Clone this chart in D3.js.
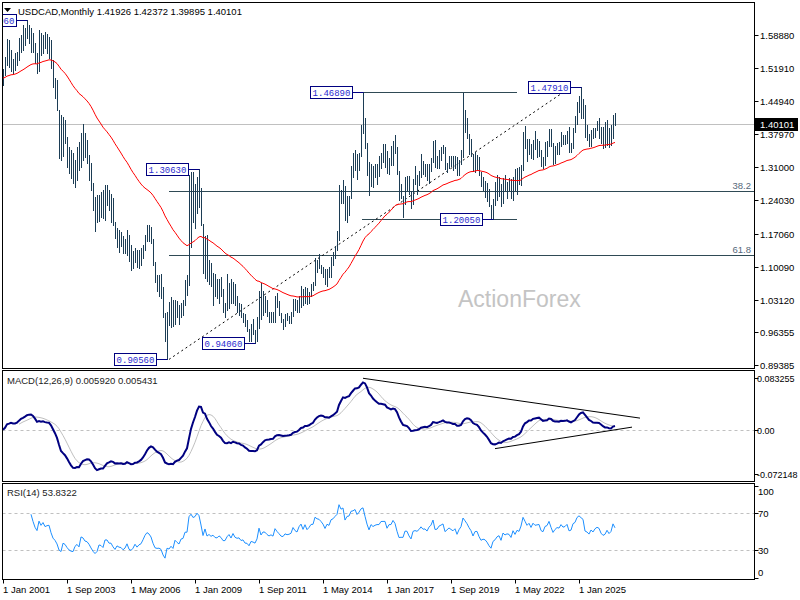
<!DOCTYPE html>
<html>
<head>
<meta charset="utf-8">
<script src="https://cdn.jsdelivr.net/npm/d3@7"></script>
<style>
  html, body { margin: 0; padding: 0; background: #fff; }
  svg { display: block; font-family: "Liberation Sans", Arial, sans-serif; }
</style>
</head>
<body>
<svg id="chart" width="800" height="600"></svg>
<script>
// ── Data: USDCAD monthly bars, Jan 2001 → Jul 2026 ─────────────────────
const firstYear = 2001;
const monthNames = ['Jan','Feb','Mar','Apr','May','Jun','Jul','Aug','Sep','Oct','Nov','Dec'];

const highs = [
  1.517, 1.543, 1.581, 1.579, 1.557, 1.538, 1.551, 1.554, 1.582, 1.589, 1.610, 1.604,   // 2001
  1.6196,1.610, 1.604, 1.592, 1.572, 1.551, 1.599, 1.593, 1.589, 1.595, 1.590, 1.585,   // 2002
  1.578, 1.536, 1.498, 1.494, 1.431, 1.420, 1.416, 1.410, 1.374, 1.353, 1.347, 1.340,   // 2003
  1.326, 1.353, 1.364, 1.383, 1.401, 1.383, 1.368, 1.336, 1.319, 1.277, 1.248, 1.252,   // 2004
  1.252, 1.258, 1.262, 1.273, 1.273, 1.262, 1.253, 1.245, 1.195, 1.182, 1.178, 1.173,   // 2005
  1.166, 1.160, 1.178, 1.168, 1.147, 1.134, 1.140, 1.135, 1.135, 1.140, 1.147, 1.168,   // 2006
  1.188, 1.189, 1.184, 1.160, 1.111, 1.083, 1.083, 1.085, 1.058, 1.003, 1.005, 1.026,   // 2007
  1.037, 1.030, 1.030, 1.028, 1.020, 1.025, 1.030, 1.072, 1.083, 1.295, 1.2995,1.301,   // 2008
  1.274, 1.289, 1.3063,1.267, 1.190, 1.165, 1.168, 1.115, 1.108, 1.088, 1.085, 1.075,   // 2009
  1.075, 1.080, 1.053, 1.025, 1.085, 1.066, 1.076, 1.068, 1.065, 1.040, 1.025, 1.023,   // 2010
  1.003, 1.002, 0.988, 0.970, 0.980, 0.990, 0.967, 0.995, 1.050, 1.066, 1.050, 1.040,   // 2011
  1.030, 1.005, 1.005, 1.005, 1.040, 1.045, 1.028, 1.003, 0.990, 1.002, 1.003, 0.998,   // 2012
  1.005, 1.032, 1.033, 1.030, 1.039, 1.060, 1.054, 1.058, 1.055, 1.047, 1.064, 1.068,   // 2013
  1.120, 1.115, 1.128, 1.105, 1.100, 1.095, 1.095, 1.100, 1.122, 1.132, 1.145, 1.177,   // 2014
  1.273, 1.263, 1.283, 1.271, 1.249, 1.250, 1.312, 1.340, 1.346, 1.338, 1.340, 1.399,   // 2015
  1.4689,1.413, 1.361, 1.322, 1.318, 1.312, 1.318, 1.318, 1.334, 1.341, 1.360, 1.360,   // 2016
  1.345, 1.330, 1.354, 1.366, 1.379, 1.353, 1.302, 1.276, 1.250, 1.290, 1.292, 1.292,   // 2017
  1.260, 1.285, 1.312, 1.295, 1.302, 1.338, 1.323, 1.318, 1.318, 1.318, 1.329, 1.366,   // 2018
  1.367, 1.333, 1.347, 1.352, 1.357, 1.353, 1.320, 1.335, 1.335, 1.334, 1.333, 1.331,   // 2019
  1.325, 1.346, 1.4667,1.430, 1.414, 1.380, 1.370, 1.338, 1.342, 1.336, 1.332, 1.301,   // 2020
  1.289, 1.282, 1.277, 1.265, 1.231, 1.244, 1.280, 1.295, 1.290, 1.275, 1.287, 1.295,   // 2021
  1.279, 1.288, 1.285, 1.289, 1.306, 1.308, 1.310, 1.316, 1.384, 1.3977,1.370, 1.370,   // 2022
  1.360, 1.367, 1.386, 1.369, 1.366, 1.346, 1.332, 1.364, 1.365, 1.390, 1.390, 1.362,   // 2023
  1.355, 1.361, 1.364, 1.385, 1.379, 1.379, 1.387, 1.395, 1.362, 1.393, 1.418, 1.447,   // 2024
  1.460, 1.4791,1.454, 1.441, 1.399, 1.380, 1.388, 1.392, 1.393, 1.408, 1.414, 1.395,   // 2025
  1.395, 1.406, 1.410, 1.393, 1.399, 1.421, 1.42372                                     // 2026
];

const lows = [
  1.484, 1.505, 1.525, 1.522, 1.512, 1.509, 1.515, 1.526, 1.536, 1.554, 1.557, 1.568,   // 2001
  1.582, 1.572, 1.553, 1.552, 1.530, 1.508, 1.513, 1.547, 1.551, 1.561, 1.551, 1.540,   // 2002
  1.519, 1.479, 1.456, 1.431, 1.330, 1.326, 1.335, 1.362, 1.311, 1.298, 1.288, 1.277,   // 2003
  1.269, 1.284, 1.305, 1.311, 1.326, 1.332, 1.319, 1.284, 1.262, 1.220, 1.177, 1.195,   // 2004
  1.198, 1.206, 1.203, 1.199, 1.231, 1.220, 1.196, 1.188, 1.161, 1.142, 1.132, 1.145,   // 2005
  1.130, 1.130, 1.126, 1.113, 1.094, 1.098, 1.110, 1.100, 1.098, 1.105, 1.120, 1.135,   // 2006
  1.155, 1.155, 1.150, 1.105, 1.069, 1.050, 1.040, 1.035, 0.995, 0.944, 0.9056,0.978,   // 2007
  0.974, 0.976, 0.980, 0.995, 0.980, 0.995, 1.000, 1.020, 1.042, 1.063, 1.142, 1.195,   // 2008
  1.182, 1.213, 1.227, 1.188, 1.087, 1.078, 1.070, 1.065, 1.060, 1.020, 1.040, 1.035,   // 2009
  1.025, 1.040, 1.005, 0.995, 1.010, 1.013, 1.025, 1.025, 1.020, 1.005, 1.000, 0.995,   // 2010
  0.985, 0.975, 0.966, 0.945, 0.945, 0.960, 0.9406,0.944, 0.972, 0.990, 1.000, 1.005,   // 2011
  0.998, 0.985, 0.985, 0.985, 0.985, 1.015, 1.000, 0.985, 0.970, 0.975, 0.988, 0.983,   // 2012
  0.983, 0.997, 1.010, 1.005, 1.005, 1.017, 1.020, 1.025, 1.022, 1.025, 1.040, 1.052,   // 2013
  1.063, 1.090, 1.098, 1.088, 1.080, 1.065, 1.060, 1.080, 1.080, 1.104, 1.120, 1.135,   // 2014
  1.157, 1.235, 1.235, 1.200, 1.196, 1.210, 1.245, 1.290, 1.304, 1.285, 1.305, 1.334,   // 2015
  1.382, 1.350, 1.295, 1.251, 1.271, 1.269, 1.289, 1.275, 1.291, 1.308, 1.322, 1.311,   // 2016
  1.298, 1.297, 1.316, 1.316, 1.340, 1.296, 1.241, 1.245, 1.206, 1.232, 1.262, 1.253,   // 2017
  1.225, 1.232, 1.276, 1.253, 1.272, 1.290, 1.296, 1.291, 1.283, 1.278, 1.303, 1.322,   // 2018
  1.311, 1.309, 1.308, 1.326, 1.340, 1.307, 1.300, 1.309, 1.313, 1.304, 1.309, 1.295,   // 2019
  1.295, 1.317, 1.332, 1.385, 1.371, 1.339, 1.333, 1.303, 1.300, 1.306, 1.293, 1.270,   // 2020
  1.263, 1.247, 1.239, 1.228, 1.2013,1.2005,1.231, 1.242, 1.249, 1.229, 1.236, 1.263,   // 2021
  1.245, 1.262, 1.246, 1.241, 1.263, 1.255, 1.276, 1.272, 1.305, 1.350, 1.323, 1.339,   // 2022
  1.329, 1.327, 1.349, 1.331, 1.333, 1.313, 1.309, 1.316, 1.335, 1.355, 1.354, 1.318,   // 2023
  1.320, 1.339, 1.339, 1.355, 1.359, 1.360, 1.362, 1.343, 1.342, 1.351, 1.384, 1.401,   // 2024
  1.426, 1.415, 1.415, 1.375, 1.3685,1.354, 1.356, 1.372, 1.373, 1.388, 1.372, 1.362,   // 2025
  1.351, 1.353, 1.357, 1.353, 1.357, 1.372, 1.39895                                     // 2026
];

const closes = [
  1.498, 1.538, 1.577, 1.538, 1.545, 1.518, 1.534, 1.550, 1.578, 1.586, 1.580, 1.592,   // 2001
  1.603, 1.597, 1.595, 1.565, 1.536, 1.518, 1.586, 1.562, 1.585, 1.561, 1.568, 1.571,   // 2002
  1.527, 1.487, 1.469, 1.437, 1.370, 1.349, 1.399, 1.386, 1.350, 1.319, 1.302, 1.296,   // 2003
  1.325, 1.336, 1.310, 1.373, 1.364, 1.335, 1.329, 1.304, 1.264, 1.222, 1.189, 1.200,   // 2004
  1.238, 1.232, 1.210, 1.256, 1.256, 1.226, 1.226, 1.190, 1.161, 1.180, 1.167, 1.163,   // 2005
  1.140, 1.148, 1.168, 1.117, 1.104, 1.114, 1.133, 1.107, 1.118, 1.123, 1.142, 1.165,   // 2006
  1.180, 1.172, 1.154, 1.110, 1.070, 1.064, 1.065, 1.054, 0.996, 0.950, 0.998, 0.989,   // 2007
  1.003, 0.981, 1.026, 1.007, 0.992, 1.020, 1.024, 1.063, 1.063, 1.205, 1.240, 1.218,   // 2008
  1.230, 1.275, 1.260, 1.193, 1.091, 1.163, 1.077, 1.095, 1.071, 1.083, 1.055, 1.050,   // 2009
  1.068, 1.051, 1.016, 1.016, 1.045, 1.063, 1.030, 1.066, 1.030, 1.020, 1.023, 0.998,   // 2010
  1.002, 0.972, 0.970, 0.946, 0.970, 0.965, 0.956, 0.978, 1.049, 0.997, 1.020, 1.018,   // 2011
  1.001, 0.990, 0.997, 0.988, 1.036, 1.018, 1.003, 0.986, 0.983, 0.998, 0.993, 0.995,   // 2012
  1.000, 1.030, 1.015, 1.008, 1.036, 1.052, 1.027, 1.055, 1.030, 1.043, 1.062, 1.063,   // 2013
  1.114, 1.107, 1.105, 1.096, 1.085, 1.066, 1.090, 1.085, 1.120, 1.127, 1.144, 1.160,   // 2014
  1.271, 1.251, 1.267, 1.205, 1.244, 1.249, 1.308, 1.315, 1.334, 1.308, 1.336, 1.384,   // 2015
  1.400, 1.353, 1.300, 1.254, 1.308, 1.292, 1.305, 1.312, 1.312, 1.341, 1.342, 1.342,   // 2016
  1.301, 1.330, 1.331, 1.366, 1.349, 1.298, 1.247, 1.249, 1.248, 1.290, 1.289, 1.256,   // 2017
  1.232, 1.283, 1.289, 1.284, 1.296, 1.315, 1.301, 1.303, 1.291, 1.315, 1.328, 1.365,   // 2018
  1.313, 1.315, 1.336, 1.343, 1.351, 1.309, 1.320, 1.332, 1.324, 1.317, 1.328, 1.299,   // 2019
  1.324, 1.342, 1.407, 1.393, 1.378, 1.357, 1.339, 1.305, 1.332, 1.333, 1.300, 1.272,   // 2020
  1.278, 1.274, 1.257, 1.229, 1.207, 1.239, 1.247, 1.262, 1.268, 1.238, 1.277, 1.265,   // 2021
  1.271, 1.268, 1.250, 1.285, 1.264, 1.287, 1.281, 1.313, 1.383, 1.362, 1.339, 1.355,   // 2022
  1.331, 1.364, 1.352, 1.355, 1.358, 1.325, 1.318, 1.351, 1.357, 1.387, 1.356, 1.325,   // 2023
  1.344, 1.357, 1.354, 1.377, 1.364, 1.368, 1.381, 1.349, 1.353, 1.392, 1.401, 1.438,   // 2024
  1.453, 1.445, 1.438, 1.380, 1.374, 1.362, 1.385, 1.374, 1.392, 1.401, 1.396, 1.372,   // 2025
  1.360, 1.365, 1.384, 1.368, 1.378, 1.4193, 1.40101                                    // 2026
];

// Axis tick labels, as printed
const priceTicks = [1.58880, 1.51910, 1.44940, 1.37970, 1.31000, 1.24030, 1.17060, 1.10090, 1.03120, 0.96355, 0.89385];
const macdTicks = [0.083255, 0, -0.072148];
const macdTickLabels = ['0.083255', '0.00', '-0.072148'];
const rsiTicks = [100, 70, 30, 0];
const timeTicks = ['1 Jan 2001', '1 Sep 2003', '1 May 2006', '1 Jan 2009', '1 Sep 2011',
                   '1 May 2014', '1 Jan 2017', '1 Sep 2019', '1 May 2022', '1 Jan 2025'];

// Annotations (bar index, price)
const priceLabels = [
  { i: 12,  price: 1.6196 },
  { i: 98,  price: 1.3063 },
  { i: 82,  price: 0.9056 },
  { i: 126, price: 0.9406 },
  { i: 180, price: 1.4689 },
  { i: 289, price: 1.4791 },
  { i: 245, price: 1.2005 }
];
const levelLines = [
  { from: 180,   to: 257, price: 1.4689 },
  { from: 179.5, to: 257, price: 1.2005 }
];
const fibAnchor = { from: 83, low: 0.9056, high: 1.4791 };
const fibRatios = [0.382, 0.618];
const trendLine = { i0: 83, p0: 0.9056, i1: 284, p1: 1.4791 };
const macdTrendLines = [
  { i0: 180, v0: 0.0833,  i1: 318.5, v1: 0.0188 },
  { i0: 246, v0: -0.0306, i1: 314.5, v1: 0.0042 }
];

const lastBar = { open: 1.41926, high: 1.42372, low: 1.39895, close: 1.40101 };

// ── Indicators (MT4 style: EMAs seeded on first bar, SMA signal, Wilder RSI) ──
const emaOf = (arr, p) => {
  const k = 2 / (p + 1), out = [];
  arr.forEach((v, i) => out.push(i ? v * k + out[i - 1] * (1 - k) : v));
  return out;
};
const n = closes.length;
const ma55 = emaOf(closes, 55);
const e12 = emaOf(closes, 12), e26 = emaOf(closes, 26);
const macd = closes.map((_, i) => e12[i] - e26[i]);
const signal = macd.map((_, i) => i < 8 ? null : d3.mean(macd.slice(i - 8, i + 1)));

const rsi = new Array(n).fill(null);
{
  let ag = 0, al = 0;
  for (let i = 1; i <= 14; i++) {
    const d = closes[i] - closes[i - 1];
    ag += Math.max(d, 0); al += Math.max(-d, 0);
  }
  ag /= 14; al /= 14;
  rsi[14] = al === 0 ? 100 : 100 - 100 / (1 + ag / al);
  for (let i = 15; i < n; i++) {
    const d = closes[i] - closes[i - 1];
    ag = (ag * 13 + Math.max(d, 0)) / 14;
    al = (al * 13 + Math.max(-d, 0)) / 14;
    rsi[i] = al === 0 ? 100 : 100 - 100 / (1 + ag / al);
  }
}

// ── Layout ──────────────────────────────────────────────────────────────
const L = 2.5, R = 754.5;
const panels = {
  main: { top: 2.5,   bottom: 368.5 },
  macd: { top: 370.5, bottom: 481.5 },
  rsi:  { top: 483.5, bottom: 579.5 }
};
const ink = '#1c3d55', navy = '#000080', grey = '#c0c0c0';
const fontSize = '9.5px';
const crisp = v => Math.round(v) + 0.5;

const x = d3.scaleLinear().domain([0, 1]).range([3, 5]);          // 2px per monthly bar
const y = d3.scaleLinear().domain([0.89385, 1.58880]).range([365, 35]);
const yM = d3.scaleLinear().domain([-0.072148, 0.083255]).range([474.3, 378.3]);
const yR = d3.scaleLinear().domain([0, 100]).range([578, 485.5]);

const svg = d3.select('#chart');
const defs = svg.append('defs');
Object.entries(panels).forEach(([k, p]) => {
  defs.append('clipPath').attr('id', `clip-${k}`)
    .append('rect').attr('x', L + 0.5).attr('y', p.top + 0.5)
    .attr('width', R - L - 1).attr('height', p.bottom - p.top - 1);
});

svg.append('rect').attr('width', 800).attr('height', 600).attr('fill', '#fff');

// ── Main price panel ────────────────────────────────────────────────────
const main = svg.append('g').attr('clip-path', 'url(#clip-main)');

main.append('text')
  .attr('x', 458).attr('y', 307)
  .attr('font-size', '23px').attr('fill', '#c4c4c4')
  .text('ActionForex');

// current price line
main.append('line')
  .attr('x1', L).attr('x2', R)
  .attr('y1', crisp(y(lastBar.close))).attr('y2', crisp(y(lastBar.close)))
  .attr('stroke', grey);

// fibonacci levels
fibRatios.forEach(r => {
  const p = fibAnchor.high - r * (fibAnchor.high - fibAnchor.low);
  const yy = crisp(y(p));
  main.append('line')
    .attr('x1', x(fibAnchor.from)).attr('x2', R)
    .attr('y1', yy).attr('y2', yy)
    .attr('stroke', '#2f4a55');
  main.append('text')
    .attr('x', 751).attr('y', yy - 3)
    .attr('text-anchor', 'end').attr('font-size', fontSize).attr('fill', '#55687a')
    .text(d3.format('.1f')(r * 100));
});

// horizontal levels
main.selectAll('line.level').data(levelLines).join('line')
  .attr('class', 'level')
  .attr('x1', d => x(d.from)).attr('x2', d => x(d.to))
  .attr('y1', d => crisp(y(d.price))).attr('y2', d => crisp(y(d.price)))
  .attr('stroke', '#2f4a55');

// dashed trend line
main.append('line')
  .attr('x1', x(trendLine.i0)).attr('y1', y(trendLine.p0))
  .attr('x2', x(trendLine.i1)).attr('y2', y(trendLine.p1))
  .attr('stroke', '#000').attr('stroke-dasharray', '2,3');

// bars (high-low only at this zoom)
main.append('g').attr('shape-rendering', 'crispEdges')
  .selectAll('line').data(closes).join('line')
  .attr('x1', (_, i) => x(i) + 0.5).attr('x2', (_, i) => x(i) + 0.5)
  .attr('y1', (_, i) => y(highs[i])).attr('y2', (_, i) => y(lows[i]) + 1)
  .attr('stroke', ink);

// 55 EMA
main.append('path')
  .datum(ma55)
  .attr('fill', 'none').attr('stroke', '#ff0000').attr('stroke-width', 1)
  .attr('d', d3.line().x((_, i) => x(i)).y(d => y(d)));

// price labels with connector
const lbl = main.selectAll('g.plabel').data(priceLabels).join('g').attr('class', 'plabel');
lbl.append('line')
  .attr('x1', d => x(d.i) - 10).attr('x2', d => x(d.i) + 0.5)
  .attr('y1', d => crisp(y(d.price))).attr('y2', d => crisp(y(d.price)))
  .attr('stroke', navy);
lbl.append('rect')
  .attr('x', d => x(d.i) - 52.5).attr('y', d => crisp(y(d.price)) - 6)
  .attr('width', 42).attr('height', 12)
  .attr('fill', '#fff').attr('stroke', navy);
lbl.append('text')
  .attr('x', d => x(d.i) - 31.5).attr('y', d => crisp(y(d.price)) + 3.5)
  .attr('text-anchor', 'middle')
  .attr('font-family', '"Liberation Mono", "DejaVu Sans Mono", monospace')
  .attr('font-size', '9px').attr('fill', '#2a2ad0')
  .text(d => d.price.toFixed(5));

// header
svg.append('path').attr('d', 'M4,8 L11,8 L7.5,12 Z').attr('fill', '#000');
svg.append('text')
  .attr('x', 18).attr('y', 14.5).attr('font-size', fontSize).attr('fill', '#000')
  .text(`USDCAD,Monthly  ${[lastBar.open, lastBar.high, lastBar.low, lastBar.close].map(d3.format('.5f')).join(' ')}`);

// ── MACD panel ──────────────────────────────────────────────────────────
const mg = svg.append('g').attr('clip-path', 'url(#clip-macd)');
mg.append('line')
  .attr('x1', L).attr('x2', R).attr('y1', crisp(yM(0))).attr('y2', crisp(yM(0)))
  .attr('stroke', grey).attr('stroke-dasharray', '3,3');
mg.append('path').datum(signal)
  .attr('fill', 'none').attr('stroke', grey).attr('stroke-width', 1)
  .attr('d', d3.line().defined(d => d != null).x((_, i) => x(i)).y(d => yM(d)));
mg.append('path').datum(macd)
  .attr('fill', 'none').attr('stroke', navy).attr('stroke-width', 2)
  .attr('d', d3.line().x((_, i) => x(i)).y(d => yM(d)));
mg.selectAll('line.tl').data(macdTrendLines).join('line')
  .attr('class', 'tl')
  .attr('x1', d => x(d.i0)).attr('y1', d => yM(d.v0))
  .attr('x2', d => x(d.i1)).attr('y2', d => yM(d.v1))
  .attr('stroke', '#000');
svg.append('text')
  .attr('x', 7).attr('y', 383.5).attr('font-size', fontSize).attr('fill', '#222')
  .text('MACD(12,26,9) 0.005920 0.005431');

// ── RSI panel ───────────────────────────────────────────────────────────
const rg = svg.append('g').attr('clip-path', 'url(#clip-rsi)');
[70, 30].forEach(v => {
  rg.append('line')
    .attr('x1', L).attr('x2', R).attr('y1', crisp(yR(v))).attr('y2', crisp(yR(v)))
    .attr('stroke', grey).attr('stroke-dasharray', '3,3');
});
rg.append('path').datum(rsi)
  .attr('fill', 'none').attr('stroke', '#1e90ff').attr('stroke-width', 1)
  .attr('d', d3.line().defined(d => d != null).x((_, i) => x(i)).y(d => yR(d)));
svg.append('text')
  .attr('x', 7).attr('y', 496).attr('font-size', fontSize).attr('fill', '#222')
  .text('RSI(14) 53.8322');

// ── Frames and axes ─────────────────────────────────────────────────────
Object.values(panels).forEach(p => {
  svg.append('rect')
    .attr('x', L).attr('y', p.top).attr('width', R - L).attr('height', p.bottom - p.top)
    .attr('fill', 'none').attr('stroke', '#000');
});

const rightAxis = (ticks, scale, labels, lx, size, clampTo) => {
  ticks.forEach((t, k) => {
    const ty = Math.round(scale(t));
    const ly = clampTo ? Math.max(clampTo[0], Math.min(clampTo[1], ty)) : ty;
    svg.append('line').attr('x1', R).attr('x2', R + 4)
      .attr('y1', ty + 0.5).attr('y2', ty + 0.5).attr('stroke', '#000');
    svg.append('text')
      .attr('x', lx).attr('y', ly + 3.5).attr('font-size', size).attr('fill', '#000')
      .text(labels[k]);
  });
};
rightAxis(priceTicks, y, priceTicks.map(d3.format('.5f')), 760, fontSize);
rightAxis(macdTicks, yM, macdTickLabels, 757, '9px');
rightAxis(rsiTicks, yR, rsiTicks.map(String), 758, fontSize, [491, 572]);

// current price tag
const cy = Math.round(y(lastBar.close));
svg.append('rect').attr('x', 755).attr('y', cy - 6).attr('width', 43).attr('height', 13).attr('fill', '#000');
svg.append('text')
  .attr('x', 760).attr('y', cy + 3.5).attr('font-size', fontSize).attr('fill', '#fff')
  .text(d3.format('.5f')(lastBar.close));

// time axis
timeTicks.forEach(label => {
  const [, mon, yr] = label.split(' ');
  const i = (+yr - firstYear) * 12 + monthNames.indexOf(mon);
  const tx = crisp(x(i));
  svg.append('line').attr('x1', tx).attr('x2', tx)
    .attr('y1', panels.rsi.bottom).attr('y2', panels.rsi.bottom + 4).attr('stroke', '#000');
  svg.append('text')
    .attr('x', tx - 0.5).attr('y', 592.5).attr('font-size', fontSize).attr('fill', '#000')
    .text(label);
});
</script>
</body>
</html>
